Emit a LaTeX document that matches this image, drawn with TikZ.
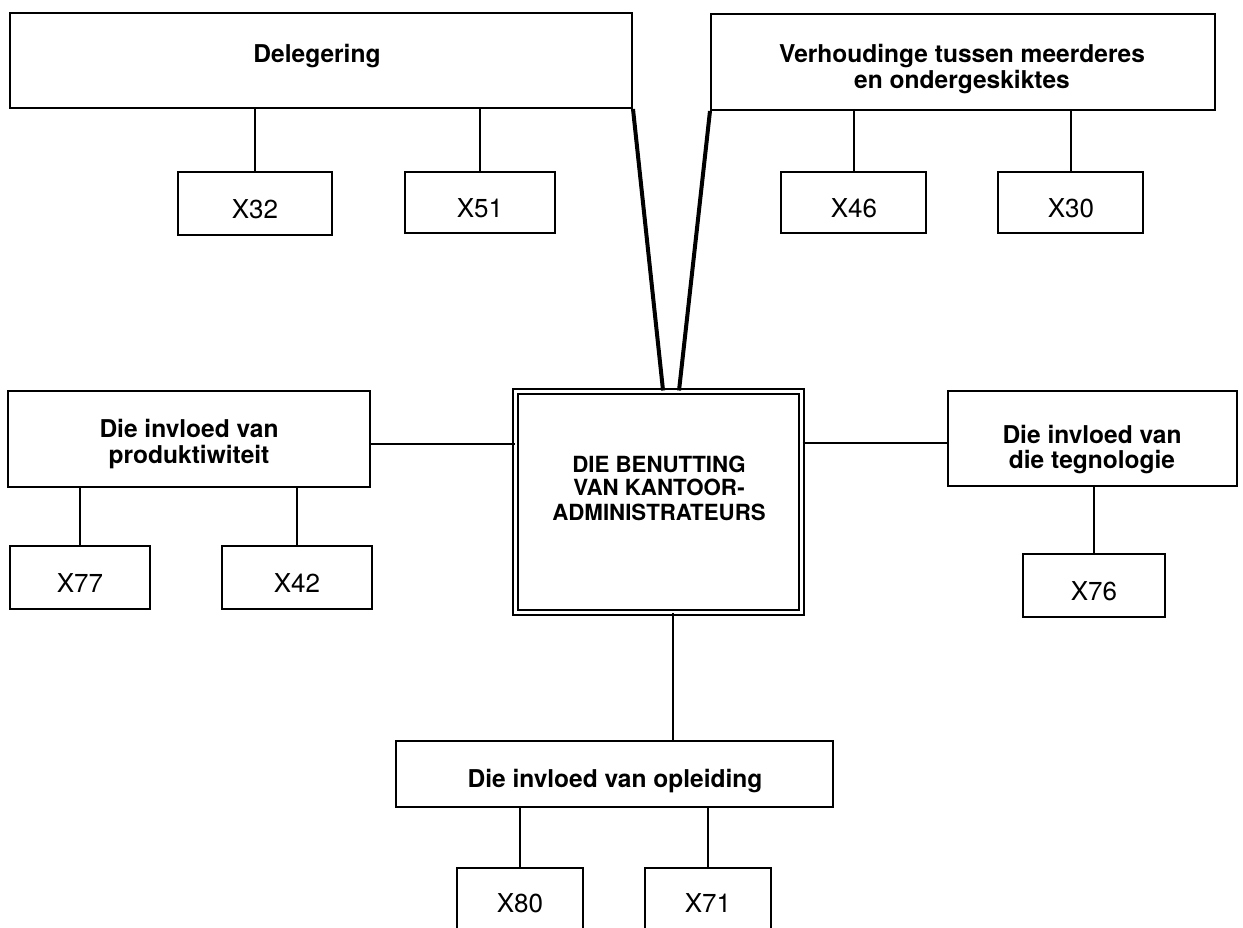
\documentclass[tikz,border=0pt]{standalone}
\usepackage{fontspec}
\setmainfont{TeX Gyre Heros}
\usetikzlibrary{fit,calc}
\begin{document}
\begin{tikzpicture}[x=0.75pt,y=-0.75pt,
  box/.style={draw,line width=1.5pt,inner sep=0pt,rectangle},
  hdr/.style={font=\fontsize{18.4}{21}\selectfont\bfseries,inner sep=0pt,anchor=base},
  hub/.style={font=\fontsize{16.7}{18}\selectfont\bfseries,inner sep=0pt,anchor=base},
  var/.style={font=\fontsize{19.5}{22}\selectfont,inner sep=0pt,anchor=base},
  stem/.style={line width=1.5pt},
  trunk/.style={line width=2pt},
  spoke/.style={line width=3pt},
]
\fill[white] (0,0) rectangle (1243,928);
\useasboundingbox (0,0) rectangle (1243,928);
\clip (0,0) rectangle (1243,928);

% boxes
\node[box, fit={(10,13) (632,108)}] (deleg) {};
\node[box, fit={(711,14) (1215,110)}] (verh) {};
\node[box, fit={(178,172) (332,235)}] (x32) {};
\node[box, fit={(405,172) (555,233)}] (x51) {};
\node[box, fit={(781,172) (926,233)}] (x46) {};
\node[box, fit={(998,172) (1143,233)}] (x30) {};
\node[box, double, double distance=2.25pt, fit={(515.5,391.5) (801.5,612)}] (centre) {};
\node[box, fit={(8,391) (370,487)}] (prod) {};
\node[box, fit={(948,391) (1237,486)}] (teg) {};
\node[box, fit={(10,546) (150,609)}] (x77) {};
\node[box, fit={(222,546) (372,609)}] (x42) {};
\node[box, fit={(1023,554) (1165,617)}] (x76) {};
\node[box, fit={(396,741) (833,807)}] (opl) {};
\node[box, fit={(457,868) (583,960)}] (x80) {};
\node[box, fit={(645,868) (771,960)}] (x71) {};

% texts
\node[hdr] (t-deleg) at (317,62) {Delegering};
\node[hdr] (t-verh1) at (962,62) {Verhoudinge tussen meerderes};
\node[hdr] (t-verh2) at (962,88) {en ondergeskiktes};
\node[hdr] (t-prod1) at (189,437) {Die invloed van};
\node[hdr] (t-prod2) at (189,463) {produktiwiteit};
\node[hdr] (t-teg1) at (1092,443) {Die invloed van};
\node[hdr] (t-teg2) at (1092,468) {die tegnologie};
\node[hdr] (t-opl) at (615,787) {Die invloed van opleiding};
\node[hub] (t-c1) at (659,472) {DIE BENUTTING};
\node[hub] (t-c2) at (659,495) {VAN KANTOOR-};
\node[hub] (t-c3) at (659,520) {ADMINISTRATEURS};
\node[var] (t-x32) at (255,218) {X32};
\node[var] (t-x51) at (480,217) {X51};
\node[var] (t-x46) at (854,217) {X46};
\node[var] (t-x30) at (1071,217) {X30};
\node[var] (t-x77) at (80,592) {X77};
\node[var] (t-x42) at (297,592) {X42};
\node[var] (t-x76) at (1094,600) {X76};
\node[var] (t-x80) at (520,912) {X80};
\node[var] (t-x71) at (708,912) {X71};

% stems to the variable boxes
\draw[stem] (x32.north) -- (x32.north |- deleg.south);
\draw[stem] (x51.north) -- (x51.north |- deleg.south);
\draw[stem] (x46.north) -- (x46.north |- verh.south);
\draw[stem] (x30.north) -- (x30.north |- verh.south);
\draw[stem] (x77.north) -- (x77.north |- prod.south);
\draw[stem] (x42.north) -- (x42.north |- prod.south);
\draw[stem] (x76.north) -- (x76.north |- teg.south);
\draw[stem] (x80.north) -- (x80.north |- opl.south);
\draw[stem] (x71.north) -- (x71.north |- opl.south);

% spokes from the hub
\draw[spoke] (deleg.south east) -- ([xshift=3.4pt]centre.north);
\draw[spoke] (verh.south west) -- ([xshift=15.4pt]centre.north);
\coordinate (pj) at ([yshift=-3.75pt]prod.east);
\draw[trunk] (pj) -- (pj -| centre.west);
\coordinate (tj) at ([yshift=-3.4pt]teg.west);
\draw[trunk] (tj -| centre.east) -- (tj);
\coordinate (oj) at ([xshift=10.9pt]centre.south);
\draw[trunk] (oj) -- (oj |- opl.north);
\end{tikzpicture}
\end{document}
